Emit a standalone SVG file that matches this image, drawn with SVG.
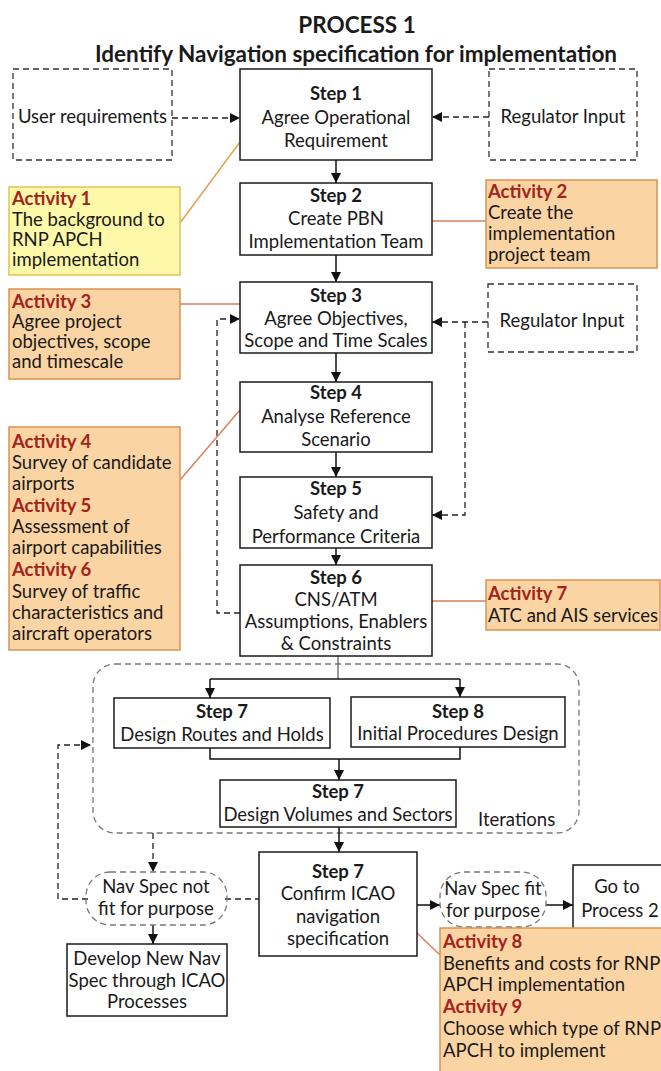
<svg xmlns="http://www.w3.org/2000/svg" width="661" height="1071" viewBox="0 0 661 1071">
<defs>
<marker id="ah" viewBox="0 0 10 10" refX="10" refY="5" markerWidth="10" markerHeight="10" markerUnits="userSpaceOnUse" orient="auto">
<path d="M0,0 L10,5 L0,10 z" fill="#111"/>
</marker>
<style>
text{font-family:Lato,"Liberation Sans",sans-serif;font-size:18.5px;fill:#1a1a1a}
.t{font-weight:bold;font-size:22.5px;text-anchor:middle}
.c{text-anchor:middle}
.b{font-weight:bold}
.act{fill:#a3231b;font-weight:bold}
.step{fill:#fff;stroke:#1a1a1a;stroke-width:1.5}
.dbox{fill:#fff;stroke:#333;stroke-width:1.3;stroke-dasharray:6 4}
.y{fill:#fdf9a8;stroke:#e2c25a;stroke-width:1.5}
.o{fill:#fbd4a3;stroke:#db9350;stroke-width:1.5}
.s{fill:none;stroke:#111;stroke-width:1.5}
.d{fill:none;stroke:#222;stroke-width:1.3;stroke-dasharray:6 4}
.g{fill:none;stroke:#777;stroke-width:1.3;stroke-dasharray:6 4}
.l1{fill:none;stroke:#e5a050;stroke-width:1.5}
.l2{fill:none;stroke:#d97f5c;stroke-width:1.5}
</style>
</defs>
<rect width="661" height="1071" fill="#fff"/>
<g id="title">
<text class="t" x="357" y="33">PROCESS 1</text>
<text class="t" x="356" y="62">Identify Navigation specification for implementation</text>
</g>
<g id="iterations">
<rect class="g" x="93" y="664" width="486" height="169" rx="22"/>
<text x="478" y="826">Iterations</text>
</g>
<g id="connectors">
<line class="d" x1="172" y1="118" x2="240" y2="118" marker-end="url(#ah)"/>
<line class="d" x1="489" y1="117" x2="432" y2="117" marker-end="url(#ah)"/>
<line class="s" x1="336" y1="160" x2="336" y2="183" marker-end="url(#ah)"/>
<line class="s" x1="336" y1="255" x2="336" y2="282" marker-end="url(#ah)"/>
<line class="s" x1="336" y1="353" x2="336" y2="382" marker-end="url(#ah)"/>
<line class="s" x1="336" y1="452" x2="336" y2="477" marker-end="url(#ah)"/>
<line class="s" x1="336" y1="548" x2="336" y2="565" marker-end="url(#ah)"/>
<line class="d" x1="488" y1="322" x2="432" y2="322" marker-end="url(#ah)"/>
<path class="d" d="M465,322 V515 H432" marker-end="url(#ah)"/>
<path class="d" d="M240,613 H217 V319 H240" marker-end="url(#ah)"/>
<line class="l1" x1="180" y1="223" x2="240" y2="142"/>
<line class="l2" x1="432" y1="221" x2="486" y2="221"/>
<line class="l2" x1="180" y1="304" x2="240" y2="304"/>
<line class="l2" x1="180" y1="480" x2="240" y2="410"/>
<line class="l2" x1="432" y1="601" x2="486" y2="601"/>
<line class="l2" x1="417" y1="933" x2="440" y2="955"/>
<line x1="338" y1="656" x2="338" y2="679" stroke="#555" stroke-width="1.2"/>
<line class="s" x1="210" y1="679" x2="460" y2="679"/>
<line class="s" x1="210" y1="679" x2="210" y2="698" marker-end="url(#ah)"/>
<line class="s" x1="460" y1="679" x2="460" y2="697" marker-end="url(#ah)"/>
<path class="s" d="M210,748 V759 H460 V747"/>
<line class="s" x1="339" y1="759" x2="339" y2="780" marker-end="url(#ah)"/>
<line class="s" x1="339" y1="827" x2="339" y2="852" marker-end="url(#ah)"/>
<line class="d" x1="153" y1="833" x2="153" y2="872" marker-end="url(#ah)"/>
<path class="d" d="M88,899 H58 V745 H91" marker-end="url(#ah)"/>
<line class="d" x1="225" y1="899" x2="259" y2="899"/>
<line class="s" x1="153" y1="925" x2="153" y2="944" marker-end="url(#ah)"/>
<line class="s" x1="417" y1="905" x2="440" y2="905" marker-end="url(#ah)"/>
<line class="s" x1="546" y1="905" x2="573" y2="905" marker-end="url(#ah)"/>
</g>
<g id="user-req">
<rect class="dbox" x="13" y="69" width="159" height="91"/>
<text class="c" x="92.5" y="123">User requirements</text>
</g>
<g id="regulator-1">
<rect class="dbox" x="489" y="69" width="148" height="91"/>
<text class="c" x="563" y="123">Regulator Input</text>
</g>
<g id="step1">
<rect class="step" x="240" y="69" width="192" height="91"/>
<text class="c b" x="336" y="100">Step 1</text>
<text class="c" x="336" y="124">Agree Operational</text>
<text class="c" x="336" y="147">Requirement</text>
</g>
<g id="step2">
<rect class="step" x="240" y="183" width="192" height="72"/>
<text class="c b" x="336" y="202">Step 2</text>
<text class="c" x="336" y="225">Create PBN</text>
<text class="c" x="336" y="248">Implementation Team</text>
</g>
<g id="step3">
<rect class="step" x="240" y="282" width="192" height="71"/>
<text class="c b" x="336" y="302">Step 3</text>
<text class="c" x="336" y="325">Agree Objectives,</text>
<text class="c" x="336" y="347">Scope and Time Scales</text>
</g>
<g id="regulator-2">
<rect class="dbox" x="488" y="284" width="149" height="68"/>
<text class="c" x="562" y="327">Regulator Input</text>
</g>
<g id="step4">
<rect class="step" x="240" y="382" width="192" height="70"/>
<text class="c b" x="336" y="399">Step 4</text>
<text class="c" x="336" y="423">Analyse Reference</text>
<text class="c" x="336" y="446">Scenario</text>
</g>
<g id="step5">
<rect class="step" x="240" y="477" width="192" height="71"/>
<text class="c b" x="336" y="495">Step 5</text>
<text class="c" x="336" y="519">Safety and</text>
<text class="c" x="336" y="543">Performance Criteria</text>
</g>
<g id="step6">
<rect class="step" x="240" y="565" width="192" height="91"/>
<text class="c b" x="336" y="584">Step 6</text>
<text class="c" x="336" y="606">CNS/ATM</text>
<text class="c" x="336" y="628">Assumptions, Enablers</text>
<text class="c" x="336" y="650">&amp; Constraints</text>
</g>
<g id="activity1">
<rect class="y" x="9" y="187" width="171" height="88"/>
<text class="act" x="12" y="205">Activity 1</text>
<text x="12" y="226">The background to</text>
<text x="12" y="246">RNP APCH</text>
<text x="12" y="266">implementation</text>
</g>
<g id="activity2">
<rect class="o" x="486" y="180" width="171" height="88"/>
<text class="act" x="488" y="198">Activity 2</text>
<text x="488" y="219">Create the</text>
<text x="488" y="240">implementation</text>
<text x="488" y="261">project team</text>
</g>
<g id="activity3">
<rect class="o" x="9" y="289" width="171" height="90"/>
<text class="act" x="12" y="308">Activity 3</text>
<text x="12" y="328">Agree project</text>
<text x="12" y="348">objectives, scope</text>
<text x="12" y="368">and timescale</text>
</g>
<g id="activity4-6">
<rect class="o" x="9" y="427" width="171" height="223"/>
<text class="act" x="12" y="448">Activity 4</text>
<text x="12" y="469">Survey of candidate</text>
<text x="12" y="490">airports</text>
<text class="act" x="12" y="512">Activity 5</text>
<text x="12" y="533">Assessment of</text>
<text x="12" y="554">airport capabilities</text>
<text class="act" x="12" y="576">Activity 6</text>
<text x="12" y="598">Survey of traffic</text>
<text x="12" y="619">characteristics and</text>
<text x="12" y="640">aircraft operators</text>
</g>
<g id="activity7">
<rect class="o" x="486" y="580" width="174" height="50"/>
<text class="act" x="488" y="600">Activity 7</text>
<text x="488" y="622">ATC and AIS services</text>
</g>
<g id="step7-routes">
<rect class="step" x="114" y="698" width="216" height="50"/>
<text class="c b" x="222" y="718">Step 7</text>
<text class="c" x="222" y="741">Design Routes and Holds</text>
</g>
<g id="step8">
<rect class="step" x="351" y="697" width="214" height="50"/>
<text class="c b" x="458" y="718">Step 8</text>
<text class="c" x="458" y="740">Initial Procedures Design</text>
</g>
<g id="step7-volumes">
<rect class="step" x="220" y="780" width="236" height="47"/>
<text class="c b" x="338" y="798">Step 7</text>
<text class="c" x="338" y="821">Design Volumes and Sectors</text>
</g>
<g id="step7-confirm">
<rect class="step" x="259" y="852" width="158" height="104"/>
<text class="c b" x="338" y="878">Step 7</text>
<text class="c" x="338" y="900">Confirm ICAO</text>
<text class="c" x="338" y="923">navigation</text>
<text class="c" x="338" y="945">specification</text>
</g>
<g id="not-fit">
<rect class="g" x="86" y="872" width="141" height="53" rx="24"/>
<text class="c" x="156" y="893">Nav Spec not</text>
<text class="c" x="156" y="915">fit for purpose</text>
</g>
<g id="develop">
<rect class="step" x="67" y="944" width="160" height="72"/>
<text class="c" x="147" y="965">Develop New Nav</text>
<text class="c" x="147" y="987">Spec through ICAO</text>
<text class="c" x="147" y="1008">Processes</text>
</g>
<g id="fit">
<rect class="g" x="440" y="872" width="106" height="55" rx="24"/>
<text class="c" x="493" y="895">Nav Spec fit</text>
<text class="c" x="493" y="917">for purpose</text>
</g>
<g id="goto">
<rect class="step" x="573" y="865" width="95" height="65"/>
<text class="c" x="617" y="893">Go to</text>
<text class="c" x="620" y="917">Process 2</text>
</g>
<g id="activity8-9">
<rect class="o" x="440" y="928" width="230" height="150"/>
<text class="act" x="443" y="948">Activity 8</text>
<text x="443" y="970">Benefits and costs for RNP</text>
<text x="443" y="991">APCH implementation</text>
<text class="act" x="443" y="1013">Activity 9</text>
<text x="443" y="1035">Choose which type of RNP</text>
<text x="443" y="1057">APCH  to implement</text>
</g>
</svg>
